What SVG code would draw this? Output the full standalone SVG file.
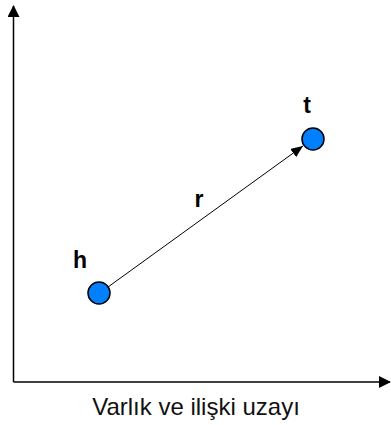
<svg xmlns="http://www.w3.org/2000/svg" width="391" height="425" viewBox="0 0 391 425">
<style>
.lbl{font-family:"Liberation Sans",Arial,sans-serif;font-weight:bold;font-size:23px;fill:#000}
.cap{font-family:"Liberation Sans",Arial,sans-serif;font-size:24px;fill:#111}
.node{fill:#0080ff;stroke:#000;stroke-width:1.5}
</style>
<defs>
<marker id="big" markerWidth="12" markerHeight="12" refX="11" refY="6" orient="auto" markerUnits="userSpaceOnUse">
<path d="M0,0 L12,6 L0,12 Z" fill="#000"/>
</marker>
<marker id="sm" markerWidth="12" markerHeight="10" refX="12" refY="5" orient="auto" markerUnits="userSpaceOnUse">
<path d="M0,0 L12,5 L0,10 Z" fill="#000"/>
</marker>
</defs>
<g id="axes" stroke="#000" stroke-width="1.5" fill="none">
<line x1="13.5" y1="382" x2="13.5" y2="6" marker-end="url(#big)"/>
<line x1="13.5" y1="382" x2="390" y2="382" marker-end="url(#big)"/>
</g>
<g id="connectors">
<line x1="108" y1="287" x2="303" y2="146" stroke="#000" stroke-width="1" marker-end="url(#sm)"/>
<text class="lbl" x="199" y="207" text-anchor="middle">r</text>
</g>
<g id="node-h">
<circle class="node" cx="99" cy="293" r="11"/>
<text class="lbl" x="80" y="268" text-anchor="middle">h</text>
</g>
<g id="node-t">
<circle class="node" cx="313" cy="139" r="11"/>
<text class="lbl" x="307" y="113" text-anchor="middle">t</text>
</g>
<text class="cap" x="196" y="415" text-anchor="middle">Varlık ve ilişki uzayı</text>
</svg>
